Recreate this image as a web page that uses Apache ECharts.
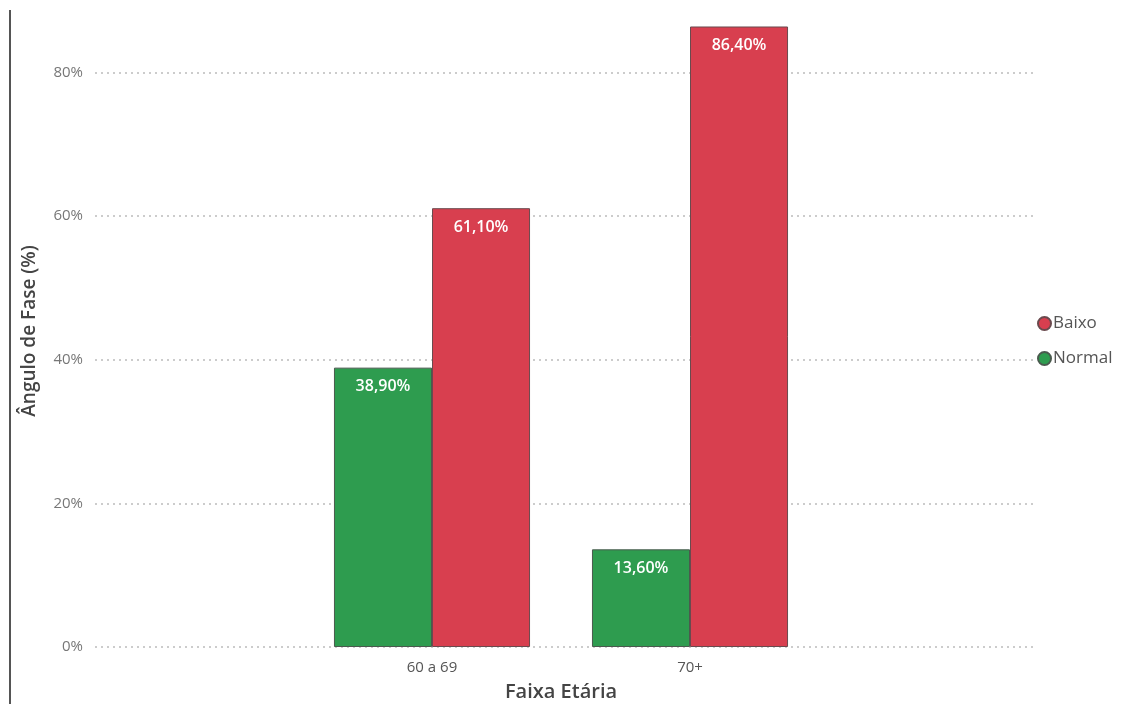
<!DOCTYPE html>
<html><head><meta charset="utf-8">
<script src="https://cdn.jsdelivr.net/npm/echarts@6/dist/echarts.min.js"></script>
<style>html,body{margin:0;padding:0;background:#fff}#c{width:1127px;height:704px}</style>
</head><body><div id="c"></div>
<script>
const categories = ['60 a 69', '70+'];
const normalValues = [38.9, 13.6];
const baixoValues = [61.1, 86.4];
const yTicks = [0, 20, 40, 60, 80];

const chart = echarts.init(document.getElementById('c'));
const fmt = v => v.toFixed(2).replace('.', ',') + '%';
const gridTop = 15, gridBottom = 57;
const ff = 'Open Sans';
chart.setOption({
  animation: false,
  graphic: [{type: 'rect', shape: {x: 9, y: 10, width: 2, height: 700}, style: {fill: '#555'}}],
  grid: [
    {left: 95, right: 92, top: gridTop, bottom: gridBottom, outerBoundsMode: 'none', containLabel: false},
    {left: 303, width: 516, top: gridTop, bottom: gridBottom, outerBoundsMode: 'none', containLabel: false}
  ],
  legend: {
    orient: 'vertical', left: 1032, top: 310, itemGap: 18,
    icon: 'circle', itemWidth: 13, itemHeight: 13,
    textStyle: {color: '#555', fontSize: 17, fontFamily: ff, padding: [0, 0, 0, -3]},
    data: ['Baixo', 'Normal']
  },
  xAxis: [
    {gridIndex: 0, type: 'category', data: categories, show: false},
    {gridIndex: 1, type: 'category', data: categories,
     axisLine: {show: false}, axisTick: {show: false},
     axisLabel: {color: '#555', fontSize: 15, margin: 13, fontFamily: ff},
     name: 'Faixa Etária', nameLocation: 'middle', nameGap: 35,
     nameTextStyle: {color: '#444', fontSize: 20, fontWeight: 600, fontFamily: ff}}
  ],
  yAxis: [
    {gridIndex: 0, type: 'value', min: yTicks[0], max: 88, interval: 20,
     axisLine: {show: false}, axisTick: {show: false},
     axisLabel: {showMaxLabel: false, color: '#777', fontSize: 15, margin: 12, fontFamily: ff,
       formatter: v => v + '%'},
     splitLine: {showMaxLine: false, lineStyle: {type: [2, 4], color: '#ccc', width: 2}},
     name: 'Ângulo de Fase (%)', nameLocation: 'middle', nameGap: 56,
     nameTextStyle: {color: '#444', fontSize: 19, fontWeight: 600, fontFamily: ff}},
    {gridIndex: 1, type: 'value', min: 0, max: 88, show: false}
  ],
  series: [
    {name: 'Normal', type: 'bar', xAxisIndex: 1, yAxisIndex: 1, data: normalValues,
     barGap: '0%', barCategoryGap: '24%',
     itemStyle: {color: '#2e9c4f', borderColor: '#4a5a4e', borderWidth: 1},
     label: {show: true, position: 'insideTop', distance: 11, color: '#fff', fontSize: 16, fontWeight: 600, fontFamily: ff, formatter: p => fmt(p.value)}},
    {name: 'Baixo', type: 'bar', xAxisIndex: 1, yAxisIndex: 1, data: baixoValues,
     barGap: '0%', barCategoryGap: '24%',
     itemStyle: {color: '#d83f4f', borderColor: '#6a4a4e', borderWidth: 1},
     label: {show: true, position: 'insideTop', distance: 11, color: '#fff', fontSize: 16, fontWeight: 600, fontFamily: ff, formatter: p => fmt(p.value)}}
  ]
});
</script></body></html>
